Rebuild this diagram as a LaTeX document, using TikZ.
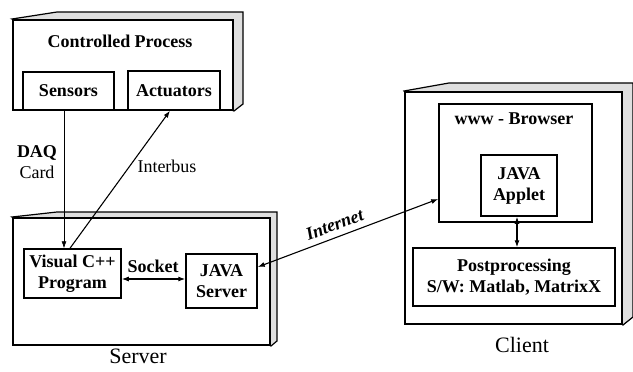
\documentclass[tikz,border=0pt]{standalone}
\usepackage{fontspec}
\setmainfont{Liberation Serif}
\usetikzlibrary{arrows.meta,backgrounds}
\begin{document}
\begin{tikzpicture}[x=1pt,y=-1pt,
  outerbox/.style={draw,line width=2pt,fill=white,inner sep=0pt},
  innerbox/.style={draw,line width=1.5pt,fill=white,align=center,inner sep=0pt,
    font=\fontsize{18}{21}\selectfont\bfseries},
  slab/.style={draw,line width=1.2pt,fill=gray!25,line join=miter},
  tip/.style={Latex[length=7pt,width=5pt]},
  conn/.style={line width=1.1pt,-{Latex[length=7pt,width=5pt]}},
  biconn/.style={line width=1.1pt,{Latex[length=7pt,width=5pt]}-{Latex[length=7pt,width=5pt]}},
  lbl/.style={font=\fontsize{18}{21}\selectfont\bfseries,inner sep=1pt},
  plainlbl/.style={font=\fontsize{18}{21}\selectfont,inner sep=1pt},
  caption/.style={font=\fontsize{22}{26}\selectfont,inner sep=0pt}]
\useasboundingbox (0,0) rectangle (633,372);

% ---- outer front faces ----
\node[outerbox,minimum width=220pt,minimum height=90pt]  (cp)  at (123,65)    {};
\node[outerbox,minimum width=257pt,minimum height=127pt] (srv) at (141.5,281.5) {};
\node[outerbox,minimum width=217pt,minimum height=232pt] (cli) at (513.5,208) {};

% ---- slanted top and side slabs behind the front faces ----
\begin{scope}[on background layer]
  \draw[slab] (cp.north west) -- ([shift={(45pt,7pt)}]cp.north west)
    -- ([shift={(9pt,7pt)}]cp.north east) -- ([shift={(9pt,7pt)}]cp.south east)
    -- (cp.south east) -- cycle;
  \draw[slab] (srv.north west) -- ([shift={(45pt,5pt)}]srv.north west)
    -- ([shift={(6pt,5pt)}]srv.north east) -- ([shift={(6pt,5pt)}]srv.south east)
    -- (srv.south east) -- cycle;
  \draw[slab] (cli.north west) -- ([shift={(45pt,8pt)}]cli.north west)
    -- ([shift={(10pt,8pt)}]cli.north east) -- ([shift={(10pt,8pt)}]cli.south east)
    -- (cli.south east) -- cycle;
\end{scope}

% ---- inner blocks ----
\node[innerbox,minimum width=91pt,minimum height=38pt]  (sensors)   at (68.5,91)   {Sensors};
\node[innerbox,minimum width=92pt,minimum height=39pt]  (actuators) at (174,90.5)  {Actuators};
\node[innerbox,minimum width=97pt,minimum height=49pt]  (vcpp)      at (72.5,273.5) {Visual C++\\Program};
\node[innerbox,minimum width=71pt,minimum height=54pt]  (jsrv)      at (221.5,281) {JAVA\\Server};
\node[innerbox,minimum width=153pt,minimum height=118pt](browser)   at (515.5,163) {};
\node[innerbox,minimum width=76pt,minimum height=61pt]  (applet)    at (519,185.5) {JAVA\\Applet};
\node[innerbox,minimum width=202pt,minimum height=58pt] (post)      at (514,277)   {Postprocessing\\S/W: Matlab, MatrixX};

% ---- titles ----
\node[lbl,anchor=base] (cptitle) at (120,48)  {Controlled Process};
\node[lbl,anchor=base] (brtitle) at (514,124) {www - Browser};
\node[caption,anchor=base] (srvcap) at (138,363) {Server};
\node[caption,anchor=base] (clicap) at (522,352) {Client};

% ---- connectors ----
\draw[line width=0.6pt,-{Latex[length=7pt,width=5pt]}]
  ([xshift=-4.5pt]sensors.south) -- ([xshift=-4.5pt]sensors.south |- vcpp.north);
\node[lbl,anchor=base]      (daq)  at (37,157) {DAQ};
\node[plainlbl,anchor=base] (card) at (37,178) {Card};

\draw[conn] ([xshift=-2.5pt]vcpp.north) -- ([xshift=-4pt]actuators.south);
\node[plainlbl,anchor=base] (ibus) at (167,172) {Interbus};

\draw[biconn] ([yshift=-5.5pt]vcpp.east) -- ([yshift=2pt]jsrv.west);
\node[lbl,anchor=base] (sock) at (153,272) {Socket};

\draw[biconn] ([yshift=14pt]jsrv.east) -- ([yshift=-36pt]browser.west)
  node[pos=0.45,sloped,above=5pt,lbl,font=\fontsize{18}{21}\selectfont\bfseries\itshape] (inet) {Internet};

\draw[biconn] ([xshift=-2pt]applet.south) -- ([xshift=3pt]post.north);
\end{tikzpicture}
\end{document}
